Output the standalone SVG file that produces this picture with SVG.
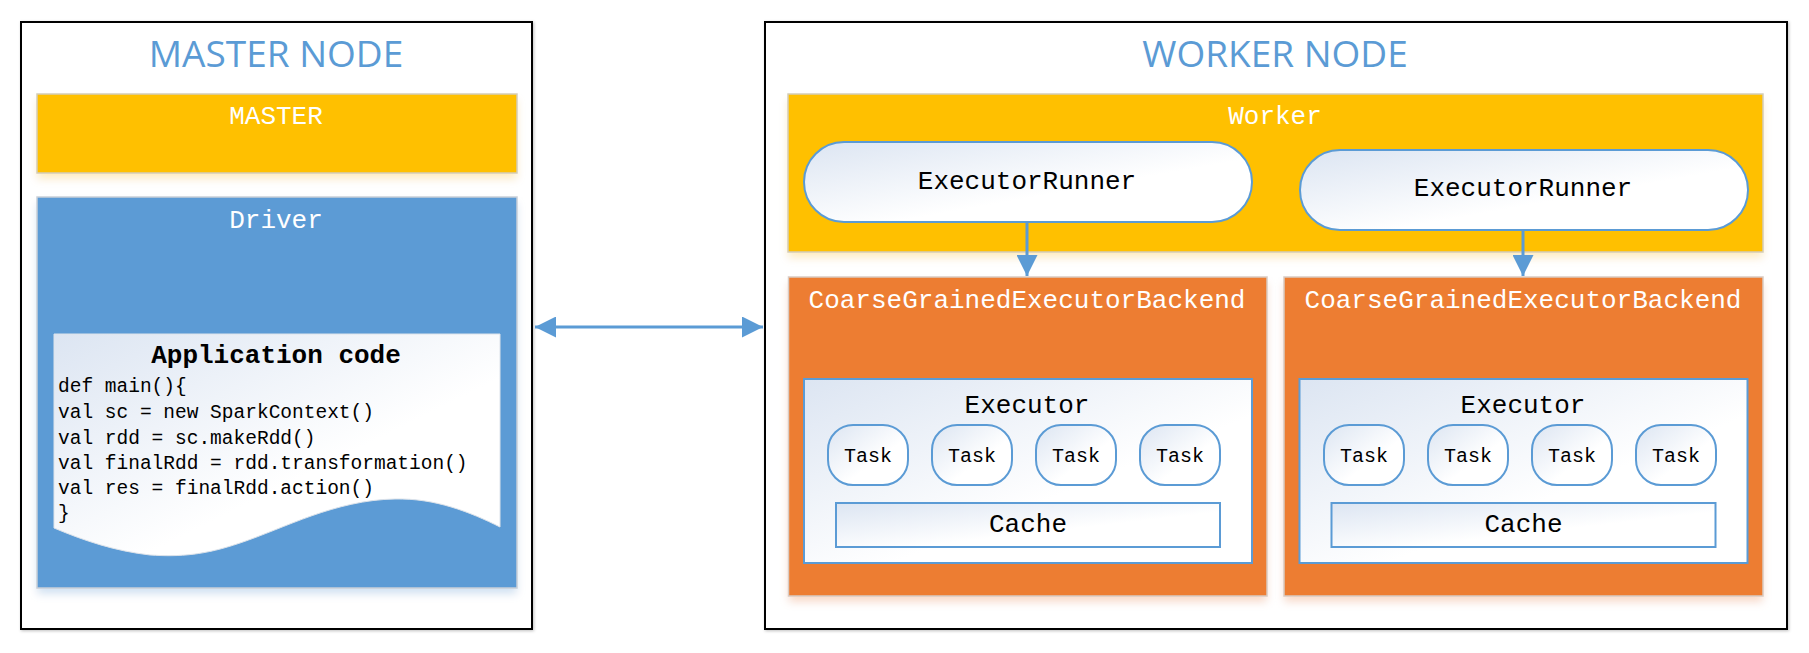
<svg xmlns="http://www.w3.org/2000/svg" width="1809" height="653" viewBox="0 0 1809 653">
<defs>
<linearGradient id="wg" x1="0" y1="0" x2="1" y2="1">
<stop offset="0" stop-color="#DCE5F2"/>
<stop offset="0.6" stop-color="#FFFFFF"/>
<stop offset="1" stop-color="#FFFFFF"/>
</linearGradient>
<filter id="glow" x="-5%" y="-10%" width="110%" height="130%">
<feGaussianBlur in="SourceGraphic" stdDeviation="4" result="b"/>
<feOffset in="b" dy="6" result="o"/>
<feComponentTransfer in="o" result="s"><feFuncA type="linear" slope="0.3"/></feComponentTransfer>
<feMerge><feMergeNode in="s"/><feMergeNode in="SourceGraphic"/></feMerge>
</filter>
<filter id="gshadow" x="-5%" y="-5%" width="110%" height="110%">
<feDropShadow dx="1" dy="1" stdDeviation="1.5" flood-color="#000" flood-opacity="0.25"/>
</filter>
<marker id="ah" viewBox="0 0 10 10" refX="10" refY="5" markerWidth="8" markerHeight="7" markerUnits="strokeWidth" orient="auto-start-reverse">
<path d="M0,0 L10,5 L0,10 Z" fill="#5B9BD5"/>
</marker>
</defs>
<style>
.outer{fill:#FFFFFF;stroke:#000;stroke-width:2}
.title{font-family:"Open Sans","Noto Sans",sans-serif;font-size:37px;fill:#5B9BD5;text-anchor:middle}
.yel{fill:#FFC000;stroke:#D4CDB8;stroke-width:1.5}
.blu{fill:#5B9BD5;stroke:#C9CFD8;stroke-width:1.5}
.org{fill:#ED7D31;stroke:#D9CBC2;stroke-width:1.5}
.wl{font-family:"Liberation Mono","DejaVu Sans Mono",monospace;font-size:26px;fill:#FFFFFF;text-anchor:middle}
.bl{font-family:"Liberation Mono","DejaVu Sans Mono",monospace;font-size:26px;fill:#000;text-anchor:middle}
.tk{font-family:"Liberation Mono","DejaVu Sans Mono",monospace;font-size:20px;fill:#000;text-anchor:middle}
.code{font-family:"Liberation Mono","DejaVu Sans Mono",monospace;font-size:19.5px;fill:#000}
.wh{fill:url(#wg);stroke:#5B9BD5;stroke-width:2}
.conn{stroke:#5B9BD5;stroke-width:3;fill:none}
</style>

<g id="master-node">
<rect class="outer" x="21" y="22" width="511" height="607" filter="url(#gshadow)"/>
<text class="title" x="276" y="67">MASTER NODE</text>
</g>
<g id="master">
<rect class="yel" x="37" y="94" width="480" height="79" filter="url(#glow)"/>
<text class="wl" x="276" y="124">MASTER</text>
</g>
<g id="driver">
<rect class="blu" x="37" y="197" width="480" height="391" filter="url(#glow)"/>
<text class="wl" x="276" y="228">Driver</text>
</g>
<g id="application-code">
<path d="M54,334 H500 V527 C470,512 435,498 395,499 C335,500 285,528 240,543 C205,555 180,557 150,555 C115,551 85,541 54,528 Z" fill="url(#wg)" stroke="#DDE3EA" stroke-width="1"/>
<text class="bl" x="276" y="363" font-weight="bold">Application code</text>
<text class="code" x="58" y="392">def main(){</text>
<text class="code" x="58" y="418">val sc = new SparkContext()</text>
<text class="code" x="58" y="444">val rdd = sc.makeRdd()</text>
<text class="code" x="58" y="469">val finalRdd = rdd.transformation()</text>
<text class="code" x="58" y="494">val res = finalRdd.action()</text>
<text class="code" x="58" y="519">}</text>
</g>

<g id="worker-node">
<rect class="outer" x="765" y="22" width="1022" height="607" filter="url(#gshadow)"/>
<text class="title" x="1275" y="67">WORKER NODE</text>
</g>
<g id="worker">
<rect class="yel" x="788" y="94" width="975" height="158" filter="url(#glow)"/>
<text class="wl" x="1275" y="124">Worker</text>
</g>
<g id="executor-runner-1">
<rect class="wh" x="804" y="142" width="448" height="80" rx="40" ry="40"/>
<text class="bl" x="1027" y="189">ExecutorRunner</text>
</g>
<g id="executor-runner-2">
<rect class="wh" x="1300" y="150" width="448" height="80" rx="40" ry="40"/>
<text class="bl" x="1523" y="196">ExecutorRunner</text>
</g>

<g id="backend-1">
<rect class="org" x="788.5" y="277" width="478.5" height="319" filter="url(#glow)"/>
<text class="wl" x="1027" y="308">CoarseGrainedExecutorBackend</text>
</g>
<g id="executor-1">
<rect class="wh" x="804" y="379" width="448" height="184"/>
<text class="bl" x="1027" y="413">Executor</text>
</g>
<g id="tasks-1">
<rect class="wh" x="828" y="425" width="80" height="60" rx="25" ry="25"/>
<text class="tk" x="868" y="462">Task</text>
<rect class="wh" x="932" y="425" width="80" height="60" rx="25" ry="25"/>
<text class="tk" x="972" y="462">Task</text>
<rect class="wh" x="1036" y="425" width="80" height="60" rx="25" ry="25"/>
<text class="tk" x="1076" y="462">Task</text>
<rect class="wh" x="1140" y="425" width="80" height="60" rx="25" ry="25"/>
<text class="tk" x="1180" y="462">Task</text>
</g>
<g id="cache-1">
<rect class="wh" x="836" y="503" width="384" height="44"/>
<text class="bl" x="1028" y="532">Cache</text>
</g>

<g id="backend-2">
<rect class="org" x="1284" y="277" width="479" height="319" filter="url(#glow)"/>
<text class="wl" x="1523" y="308">CoarseGrainedExecutorBackend</text>
</g>
<g id="executor-2">
<rect class="wh" x="1299.5" y="379" width="448" height="184"/>
<text class="bl" x="1523" y="413">Executor</text>
</g>
<g id="tasks-2">
<rect class="wh" x="1324" y="425" width="80" height="60" rx="25" ry="25"/>
<text class="tk" x="1364" y="462">Task</text>
<rect class="wh" x="1428" y="425" width="80" height="60" rx="25" ry="25"/>
<text class="tk" x="1468" y="462">Task</text>
<rect class="wh" x="1532" y="425" width="80" height="60" rx="25" ry="25"/>
<text class="tk" x="1572" y="462">Task</text>
<rect class="wh" x="1636" y="425" width="80" height="60" rx="25" ry="25"/>
<text class="tk" x="1676" y="462">Task</text>
</g>
<g id="cache-2">
<rect class="wh" x="1331.5" y="503" width="384" height="44"/>
<text class="bl" x="1523.5" y="532">Cache</text>
</g>

<g id="connectors">
<line class="conn" x1="535" y1="327" x2="763" y2="327" marker-start="url(#ah)" marker-end="url(#ah)"/>
<line class="conn" x1="1027" y1="222" x2="1027" y2="276" marker-end="url(#ah)"/>
<line class="conn" x1="1523" y1="230" x2="1523" y2="276" marker-end="url(#ah)"/>
</g>
</svg>
